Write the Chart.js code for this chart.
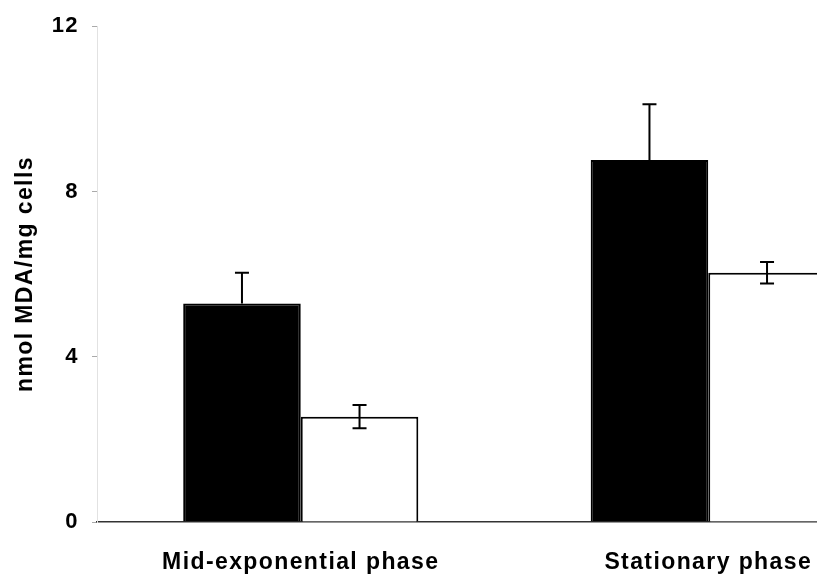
<!DOCTYPE html>
<html>
<head>
<meta charset="utf-8">
<script src="https://cdn.jsdelivr.net/npm/chart.js@4/dist/chart.umd.min.js"></script>
<style>
html,body{margin:0;padding:0;background:#fff;overflow:hidden;}
#wrap{width:817px;height:575px;overflow:hidden;position:relative;}
canvas{display:block;}
</style>
</head>
<body>
<div id="wrap"><canvas id="c" width="912" height="575"></canvas></div>
<script>
const categories = ["Mid-exponential phase", "Stationary phase"];
const blackValues = [5.29, 8.76];
const blackErrors = [0.74, 1.35];
const whiteValues = [2.55, 6.03];
const whiteErrors = [0.28, 0.26];
const yTicks = [0, 4, 8, 12];
const yTitle = "nmol MDA/mg cells";

const FONT = "'Liberation Sans', Arial, sans-serif";

const spacing = {
  id: 'spacing',
  beforeDraw(chart) { try { chart.ctx.letterSpacing = '1.4px'; } catch (e) {} }
};

const errorBars = {
  id: 'errorBars',
  afterDatasetsDraw(chart) {
    const ctx = chart.ctx;
    const y = chart.scales.y;
    ctx.save();
    ctx.strokeStyle = '#000';
    ctx.lineWidth = 2;
    chart.data.datasets.forEach((ds, di) => {
      const meta = chart.getDatasetMeta(di);
      meta.data.forEach((bar, i) => {
        const v = ds.data[i], e = ds.errors[i];
        const x = bar.x;
        const yTop = y.getPixelForValue(v + e);
        const yBot = ds.twoSided ? y.getPixelForValue(v - e) : y.getPixelForValue(v);
        ctx.beginPath();
        ctx.moveTo(x, yBot); ctx.lineTo(x, yTop);
        ctx.moveTo(x - 7, yTop); ctx.lineTo(x + 7, yTop);
        if (ds.twoSided) { ctx.moveTo(x - 7, yBot); ctx.lineTo(x + 7, yBot); }
        ctx.stroke();
      });
    });
    ctx.restore();
  }
};

const yTitlePlugin = {
  id: 'yTitlePlugin',
  afterDraw(chart) {
    const ctx = chart.ctx;
    const a = chart.chartArea;
    ctx.save();
    ctx.translate(32, (a.top + a.bottom) / 2);
    ctx.rotate(-Math.PI / 2);
    ctx.font = "bold 23px " + FONT;
    ctx.fillStyle = '#000';
    ctx.textAlign = 'center';
    ctx.textBaseline = 'alphabetic';
    ctx.fillText(yTitle, 0, 0);
    ctx.restore();
  }
};

new Chart(document.getElementById('c'), {
  type: 'bar',
  data: {
    labels: categories,
    datasets: [
      { data: blackValues, errors: blackErrors, twoSided: false,
        backgroundColor: '#000', borderColor: '#000', borderWidth: 2, borderSkipped: 'bottom' },
      { data: whiteValues, errors: whiteErrors, twoSided: true,
        backgroundColor: '#fff', borderColor: '#000', borderWidth: 2, borderSkipped: 'bottom' }
    ]
  },
  options: {
    responsive: false,
    animation: false,
    devicePixelRatio: 1,
    layout: { padding: { top: 22, left: 0, right: 0, bottom: 0 } },
    plugins: { legend: { display: false }, tooltip: { enabled: false } },
    datasets: { bar: { categoryPercentage: 0.577, barPercentage: 1.0 } },
    scales: {
      x: {
        grid: { display: false, drawTicks: false },
        border: { display: true, color: '#333', width: 1.5 },
        ticks: { padding: 27, color: '#000', font: { family: FONT, size: 23, weight: 'bold' } },
        afterFit(s) { s.height = 53; }
      },
      y: {
        min: 0, max: 12,
        afterBuildTicks(s) { s.ticks = yTicks.map(v => ({ value: v })); },
        grid: { display: true, drawOnChartArea: false, tickLength: 5, color: '#aaa', lineWidth: 1 },
        border: { display: true, color: '#e2e2e2', width: 1, dash: [1, 10] },
        ticks: { padding: 13, color: '#000', font: { family: FONT, size: 22, weight: 'bold' } },
        afterFit(s) { s.width = 97; }
      }
    }
  },
  plugins: [spacing, errorBars, yTitlePlugin]
});
</script>
</body>
</html>
